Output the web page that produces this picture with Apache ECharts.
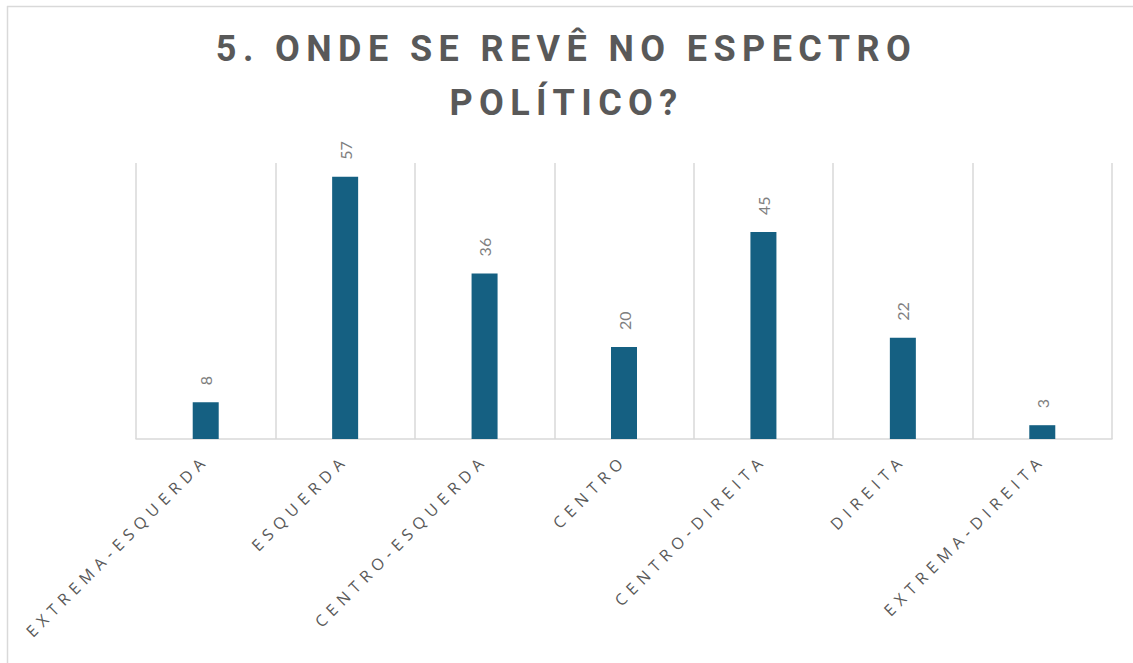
<!DOCTYPE html>
<html>
<head>
<meta charset="utf-8">
<script src="https://cdn.jsdelivr.net/npm/echarts@6/dist/echarts.min.js"></script>
<style>
html,body{margin:0;padding:0;background:#fff;}
#chart{width:1133px;height:663px;}
#chart text[style*="Roboto"][style*="bold"]{letter-spacing:6.4px;}
#chart text[style*="Open"]{letter-spacing:5.8px;}
</style>
</head>
<body>
<div id="chart"></div>
<script>
const titleText = '5. ONDE SE REVÊ NO ESPECTRO\nPOLÍTICO?';
const categories = ['EXTREMA-ESQUERDA','ESQUERDA','CENTRO-ESQUERDA','CENTRO','CENTRO-DIREITA','DIREITA','EXTREMA-DIREITA'];
const values = [8, 57, 36, 20, 45, 22, 3];

const chart = echarts.init(document.getElementById('chart'), null, {renderer:'svg'});
chart.setOption({
  animation:false,
  backgroundColor:'#fff',
  graphic:[
    {type:'line', shape:{x1:7, y1:6.5, x2:1133, y2:6.5}, style:{stroke:'#d9d9d9', lineWidth:1.5}, silent:true},
    {type:'line', shape:{x1:7.5, y1:6, x2:7.5, y2:663}, style:{stroke:'#d9d9d9', lineWidth:1.5}, silent:true}
  ],
  title:{
    text:titleText, left:'center', top:17,
    textStyle:{fontFamily:'Roboto,sans-serif', fontWeight:'bold', fontSize:36, color:'#595959', lineHeight:54}
  },
  grid:{left:136, right:21, top:163, bottom:224, containLabel:false},
  xAxis:{
    type:'category', data:categories,
    axisLine:{lineStyle:{color:'#d9d9d9', width:1.5}},
    axisTick:{show:false},
    splitLine:{show:true, interval:0, lineStyle:{color:'#d9d9d9', width:1.5}},
    axisLabel:{interval:0, rotate:45, margin:18, color:'#595959', fontSize:16, fontFamily:'"Open Sans",sans-serif'}
  },
  yAxis:{type:'value', min:0, max:60, show:false, splitLine:{show:false}},
  series:[{
    type:'bar', data:values, barWidth:26,
    itemStyle:{color:'#156082'},
    label:{show:true, position:'top', rotate:90, align:'left', verticalAlign:'middle', distance:17, color:'#7f7f7f', fontSize:16, fontFamily:'Lato,sans-serif'}
  }]
});
</script>
</body>
</html>
